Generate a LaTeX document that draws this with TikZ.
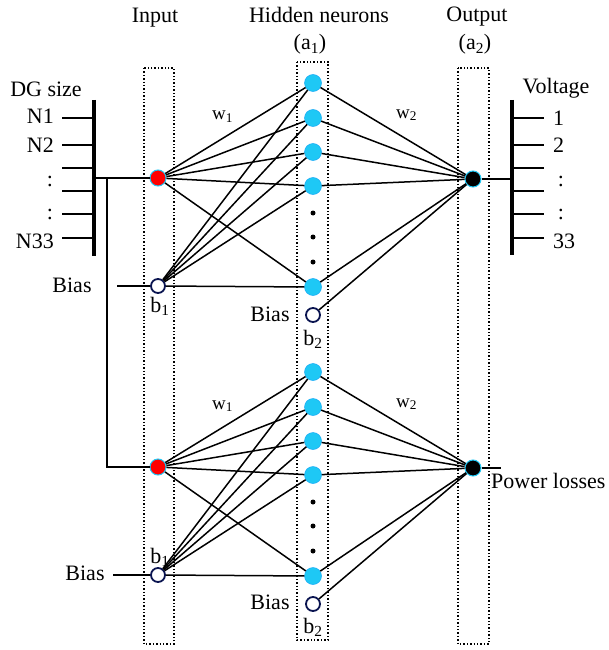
\documentclass[tikz,border=0pt]{standalone}
\usepackage{fontspec}
\setmainfont{Liberation Serif}
\definecolor{neuron}{RGB}{30,200,245}
\definecolor{biasring}{RGB}{10,20,80}
\tikzset{
    lbl/.style={font=\fontsize{22}{24}\selectfont, inner sep=0pt},
    wlbl/.style={font=\fontsize{19}{21}\selectfont, inner sep=0pt},
    layer/.style={draw, dotted, line width=1.4pt},
    hidn/.style={circle, fill=neuron, draw=neuron!85!blue, line width=0.5pt, minimum size=17pt, inner sep=0pt},
    biasn/.style={circle, fill=white, draw=biasring, line width=1.8pt, minimum size=14pt, inner sep=0pt},
    inn/.style={circle, fill=red, draw=neuron, line width=1pt, minimum size=16pt, inner sep=0pt},
    outn/.style={circle, fill=black, draw=neuron, line width=1pt, minimum size=16pt, inner sep=0pt},
    dotn/.style={circle, fill=black, minimum size=5pt, inner sep=0pt},
    link/.style={line width=1.5pt},
    bus/.style={line width=3.8pt},
    tap/.style={line width=2pt}
}
\begin{document}
\begin{tikzpicture}[x=1pt, y=-1pt]
    \useasboundingbox (0,0) rectangle (608,650);

    \draw [layer] (144,68) rectangle (174,644);
    \draw [layer] (297,62) rectangle (328,640);
    \draw [layer] (458,68) rectangle (489,644);

    \node[lbl, anchor=base] (tin) at (155,23) {Input};
    \node[lbl, anchor=base] (thid) at (319,23) {Hidden neurons};
    \node[lbl, anchor=base] (ta1) at (310,50) {(a\textsubscript{1})};
    \node[lbl, anchor=base] (tout) at (477,22) {Output};
    \node[lbl, anchor=base] (ta2) at (475,50) {(a\textsubscript{2})};

    \foreach \net/\dy in {U/0, L/289} {
        \begin{scope}[yshift=-\dy pt]
            \node[inn] (in\net) at (158,178) {};
            \node[biasn] (b\net) at (158,286) {};
            \foreach \i/\y in {1/83, 2/118, 3/152, 4/186, 5/287}
                \node[hidn] (h\net\i) at (313,\y) {};
            \foreach \k/\y in {1/213, 2/237, 3/262}
                \node[dotn] (d\net\k) at (313,\y) {};
            \node[biasn] (c\net) at (313,315) {};
            \node[outn] (o\net) at (473,179) {};
            \foreach \i in {1,...,5} {
                \draw [link] (in\net) -- (h\net\i);
                \draw [link] (b\net) -- (h\net\i);
                \draw [link] (h\net\i) -- (o\net);
            }
            \draw [link] (c\net) -- (o\net);
            \node[wlbl, anchor=base west] (wa\net) at (212,120) {w\textsubscript{1}};
            \node[wlbl, anchor=base west] (wb\net) at (396,118) {w\textsubscript{2}};
        \end{scope}
    }

    \draw [bus] (94,100) -- (94,256);
    \foreach \y in {118,145,168,191,214,238}
        \draw [tap] (62,\y) -- (94,\y);
    \node[lbl, anchor=base] (tdg) at (46,97) {DG size};
    \node[lbl, anchor=base east] (n1) at (54,124) {N1};
    \node[lbl, anchor=base east] (n2) at (54,152) {N2};
    \node[lbl] (n3) at (50,181) {:};
    \node[lbl] (n4) at (50,214) {:};
    \node[lbl, anchor=base east] (n33) at (54,248) {N33};

    \draw [bus] (512,100) -- (512,255);
    \foreach \y in {118,145,168,191,214,238}
        \draw [tap] (512,\y) -- (544,\y);
    \node[lbl, anchor=base] (tvol) at (556,94) {Voltage};
    \node[lbl, anchor=base west] (v1) at (553,125) {1};
    \node[lbl, anchor=base west] (v2) at (553,152) {2};
    \node[lbl] (v3) at (561,181) {:};
    \node[lbl] (v4) at (561,214) {:};
    \node[lbl, anchor=base west] (v33) at (553,248) {33};

    \coordinate (busL) at (94,178);
    \coordinate (split) at (107,178);
    \coordinate (busR) at (512,179);
    \coordinate (lossend) at (501,468);
    \coordinate (biasinU) at (117,286);
    \coordinate (biasinL) at (113,575);
    \draw [link] (busL) -- (inU);
    \draw [link] (split) |- (inL);
    \draw [link] (oU) -- (busR);
    \draw [link] (oL) -- (lossend);
    \draw [link] (biasinU) -- (bU);
    \draw [link] (biasinL) -- (bL);

    \node[lbl, anchor=base] (tbiasU) at (72,292) {Bias};
    \node[lbl, anchor=base] (tbiasL) at (85,580) {Bias};
    \node[lbl, anchor=base] (tb1U) at (160,312) {b\textsubscript{1}};
    \node[lbl, anchor=base] (tb1L) at (160,563) {b\textsubscript{1}};
    \node[lbl, anchor=base] (thbU) at (270,321) {Bias};
    \node[lbl, anchor=base] (thbL) at (270,609) {Bias};
    \node[lbl, anchor=base] (tb2U) at (313,345) {b\textsubscript{2}};
    \node[lbl, anchor=base] (tb2L) at (313,633) {b\textsubscript{2}};
    \node[lbl, anchor=base west] (tloss) at (491,488) {Power losses};

\end{tikzpicture}
\end{document}
